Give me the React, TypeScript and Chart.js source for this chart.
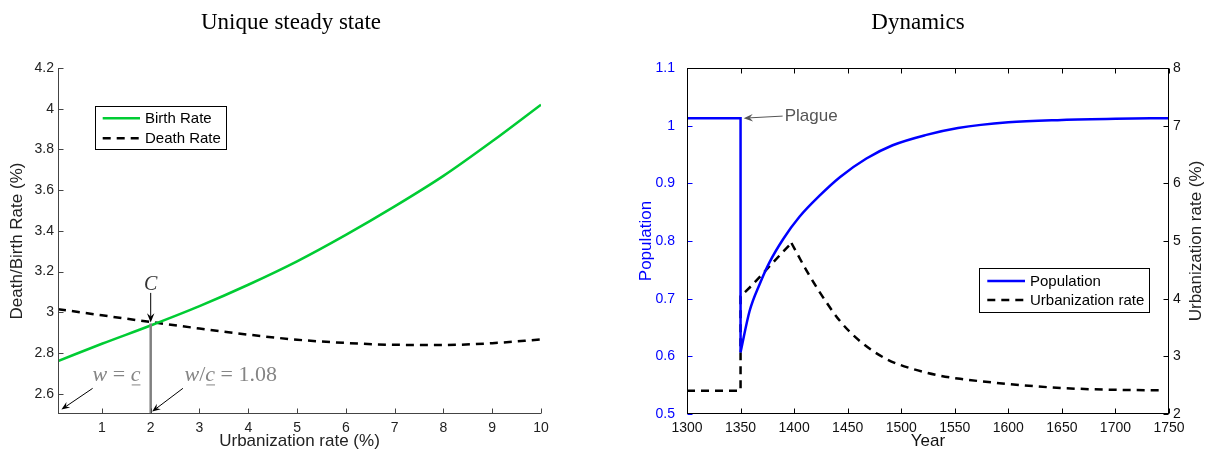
import React, { useEffect, useRef } from 'react';
import { Chart, registerables } from 'chart.js';

Chart.register(...registerables);

// ---------------- Left panel: unique steady state ----------------
const URBAN_RATE = [0.1, 1, 2, 3, 4, 5, 6, 7, 8, 9, 10];
const BIRTH_RATE = [2.76, 2.845, 2.935, 3.03, 3.135, 3.25, 3.38, 3.52, 3.67, 3.84, 4.02];
const DEATH_RATE = [3.015, 2.985, 2.952, 2.92, 2.89, 2.865, 2.849, 2.84, 2.839, 2.848, 2.866];
const STEADY_URBAN = 2;
const STEADY_RATE = 2.945;
const RATE_X_TICKS = [1, 2, 3, 4, 5, 6, 7, 8, 9, 10];
const RATE_Y_TICKS = [2.6, 2.8, 3, 3.2, 3.4, 3.6, 3.8, 4, 4.2];

// ---------------- Right panel: dynamics ----------------
const POP_YEARS = [1300, 1350, 1350, 1358.5, 1368, 1377, 1390, 1405, 1424, 1443, 1467.5, 1492, 1523.5, 1553, 1600, 1650, 1700, 1750];
const POPULATION = [1.013, 1.013, 0.607, 0.679, 0.726, 0.763, 0.804, 0.842, 0.879, 0.911, 0.943, 0.966, 0.984, 0.996, 1.006, 1.01, 1.012, 1.013];
const POP_TROUGH = 2;
const URB_YEARS = [1300, 1350, 1350, 1360, 1370, 1380, 1390, 1397.5, 1411.5, 1424, 1442.5, 1461, 1486, 1511, 1536, 1555, 1600, 1650, 1700, 1745];
const URBANIZATION = [2.405, 2.405, 4.04, 4.22, 4.42, 4.62, 4.82, 4.965, 4.49, 4.11, 3.62, 3.27, 2.955, 2.78, 2.665, 2.61, 2.52, 2.45, 2.42, 2.41];
const URB_PEAK = 7;
const YEAR_TICKS = [1300, 1350, 1400, 1450, 1500, 1550, 1600, 1650, 1700, 1750];
const POP_TICKS = [0.5, 0.6, 0.7, 0.8, 0.9, 1, 1.1];
const URB_TICKS = [2, 3, 4, 5, 6, 7, 8];
const PLAGUE_YEAR = 1350;

// ---------------- styling ----------------
const SANS = '"Liberation Sans", Arial, Helvetica, sans-serif';
const SERIF = '"Liberation Serif", "Times New Roman", serif';
const GREEN = '#00cc33';
const BLUE = '#0000ff';
const W = 607;
const H = 458;
const TICK_SIZE = 14;

const fmt = (v: any) => String(Number(Number(v).toFixed(2)));
const pts = (xs: number[], ys: number[], from = 0, to = xs.length - 1) =>
  xs.slice(from, to + 1).map((x, i) => ({ x, y: ys[from + i] }));
const setTicks = (vals: number[]) => (s: any) => {
  s.ticks = vals.map((v) => ({ value: v }));
};

function arrow(ctx: CanvasRenderingContext2D, x1: number, y1: number, x2: number, y2: number, color: string, lw: number, head: number) {
  ctx.save();
  ctx.setLineDash([]);
  ctx.strokeStyle = color;
  ctx.fillStyle = color;
  ctx.lineWidth = lw;
  const a = Math.atan2(y2 - y1, x2 - x1);
  const bx = x2 - head * 0.6 * Math.cos(a);
  const by = y2 - head * 0.6 * Math.sin(a);
  ctx.beginPath();
  ctx.moveTo(x1, y1);
  ctx.lineTo(bx, by);
  ctx.stroke();
  const sp = 0.38;
  ctx.beginPath();
  ctx.moveTo(x2, y2);
  ctx.lineTo(x2 - head * Math.cos(a - sp), y2 - head * Math.sin(a - sp));
  ctx.lineTo(bx, by);
  ctx.lineTo(x2 - head * Math.cos(a + sp), y2 - head * Math.sin(a + sp));
  ctx.closePath();
  ctx.fill();
  ctx.restore();
}

function drawMath(ctx: CanvasRenderingContext2D, parts: { t: string; it?: boolean; ul?: boolean }[], cx: number, base: number, size: number, color: string) {
  const f = (it?: boolean) => `${it ? 'italic ' : ''}${size}px ${SERIF}`;
  const ws = parts.map((p) => {
    ctx.font = f(p.it);
    return ctx.measureText(p.t).width;
  });
  const total = ws.reduce((a, b) => a + b, 0);
  let x = cx - total / 2;
  ctx.fillStyle = color;
  ctx.strokeStyle = color;
  ctx.textAlign = 'left';
  ctx.textBaseline = 'alphabetic';
  parts.forEach((p, i) => {
    ctx.font = f(p.it);
    ctx.fillText(p.t, x, base);
    if (p.ul) {
      ctx.lineWidth = 1;
      ctx.beginPath();
      ctx.moveTo(x + 1, base + 3.5);
      ctx.lineTo(x + ws[i], base + 3.5);
      ctx.stroke();
    }
    x += ws[i];
  });
}

type TickSpec = { axis: string; side: 'left' | 'right' | 'top' | 'bottom'; color: string };

function framePlugin(sides: { left?: boolean; right?: boolean; top?: boolean; bottom?: boolean }, color: string, ticks: TickSpec[]) {
  return {
    id: 'frame',
    afterDatasetsDraw(chart: any) {
      const { ctx, chartArea: a } = chart;
      const L = Math.round(a.left) + 0.5;
      const R = Math.round(a.right) - 0.5;
      const T = Math.round(a.top) + 0.5;
      const B = Math.round(a.bottom) - 0.5;
      const len = 5;
      ctx.save();
      ctx.setLineDash([]);
      ctx.lineWidth = 1;
      for (const t of ticks) {
        const s = chart.scales[t.axis];
        ctx.strokeStyle = t.color;
        ctx.beginPath();
        for (const tk of s.ticks) {
          const p = Math.round(s.getPixelForValue(tk.value)) + 0.5;
          if (t.side === 'bottom') { ctx.moveTo(p, B); ctx.lineTo(p, B - len); }
          if (t.side === 'top') { ctx.moveTo(p, T); ctx.lineTo(p, T + len); }
          if (t.side === 'left') { ctx.moveTo(L, p); ctx.lineTo(L + len, p); }
          if (t.side === 'right') { ctx.moveTo(R, p); ctx.lineTo(R - len, p); }
        }
        ctx.stroke();
      }
      ctx.strokeStyle = color;
      ctx.beginPath();
      if (sides.left) { ctx.moveTo(L, T - 0.5); ctx.lineTo(L, B + 0.5); }
      if (sides.right) { ctx.moveTo(R, T - 0.5); ctx.lineTo(R, B + 0.5); }
      if (sides.top) { ctx.moveTo(L - 0.5, T); ctx.lineTo(R + 0.5, T); }
      if (sides.bottom) { ctx.moveTo(L - 0.5, B); ctx.lineTo(R + 0.5, B); }
      ctx.stroke();
      ctx.restore();
    },
  };
}

function titlePlugin(text: string, cx: number) {
  return {
    id: 'paneltitle',
    afterDraw(chart: any) {
      const { ctx } = chart;
      ctx.save();
      ctx.font = `23px ${SERIF}`;
      ctx.fillStyle = '#000';
      ctx.textAlign = 'center';
      ctx.textBaseline = 'alphabetic';
      ctx.fillText(text, cx, 29);
      ctx.restore();
    },
  };
}

function legendPlugin(box: { x: number; y: number; w: number; h: number }, rows: { label: string; color: string; dash: number[]; y: number }[], lineX0: number, lineX1: number, textX: number) {
  return {
    id: 'boxlegend',
    afterDraw(chart: any) {
      const { ctx } = chart;
      ctx.save();
      ctx.fillStyle = '#fff';
      ctx.fillRect(box.x, box.y, box.w, box.h);
      ctx.strokeStyle = '#000';
      ctx.lineWidth = 1;
      ctx.setLineDash([]);
      ctx.strokeRect(box.x + 0.5, box.y + 0.5, box.w, box.h);
      for (const r of rows) {
        ctx.strokeStyle = r.color;
        ctx.lineWidth = 2.5;
        ctx.setLineDash(r.dash);
        ctx.beginPath();
        ctx.moveTo(lineX0, r.y);
        ctx.lineTo(lineX1, r.y);
        ctx.stroke();
        ctx.setLineDash([]);
        ctx.fillStyle = '#000';
        ctx.font = `15px ${SANS}`;
        ctx.textAlign = 'left';
        ctx.textBaseline = 'middle';
        ctx.fillText(r.label, textX, r.y + 1);
      }
      ctx.restore();
    },
  };
}

const steadyAnnotations = {
  id: 'steadyAnnot',
  afterDatasetsDraw(chart: any) {
    const { ctx } = chart;
    const x = chart.scales.x;
    const y = chart.scales.y;
    const X = (v: number) => x.getPixelForValue(v);
    const Y = (v: number) => y.getPixelForValue(v);
    ctx.save();
    // vertical gray line from the axis to the steady state
    ctx.strokeStyle = '#808080';
    ctx.lineWidth = 2.5;
    ctx.setLineDash([]);
    ctx.beginPath();
    ctx.moveTo(X(STEADY_URBAN), Y(y.min));
    ctx.lineTo(X(STEADY_URBAN), Y(STEADY_RATE));
    ctx.stroke();
    // C label + arrow
    ctx.font = `italic 20px ${SERIF}`;
    ctx.fillStyle = '#333';
    ctx.textAlign = 'center';
    ctx.textBaseline = 'alphabetic';
    ctx.fillText('C', X(STEADY_URBAN), Y(3.108));
    arrow(ctx, X(STEADY_URBAN), Y(3.095), X(STEADY_URBAN), Y(STEADY_RATE + 0.004), '#000', 1, 10);
    // w = c label
    drawMath(ctx, [{ t: 'w', it: true }, { t: ' = ' }, { t: 'c', it: true, ul: true }], X(1.3), Y(2.66), 22, '#858585');
    arrow(ctx, X(0.81), Y(2.626), X(0.17), Y(2.522), '#000', 1, 9);
    // w/c = 1.08 label
    drawMath(ctx, [{ t: 'w', it: true }, { t: '/' }, { t: 'c', it: true, ul: true }, { t: ' = 1.08' }], X(3.64), Y(2.66), 22, '#858585');
    arrow(ctx, X(2.66), Y(2.626), X(2.03), Y(2.512), '#000', 1, 9);
    ctx.restore();
  },
};

const plagueAnnotation = {
  id: 'plague',
  afterDatasetsDraw(chart: any) {
    const { ctx } = chart;
    const x = chart.scales.x;
    const y = chart.scales.y;
    ctx.save();
    arrow(ctx, x.getPixelForValue(PLAGUE_YEAR + 39.3), y.getPixelForValue(1.0166), x.getPixelForValue(PLAGUE_YEAR + 2.9), y.getPixelForValue(POPULATION[0]), '#555', 1, 10);
    ctx.font = `17px ${SANS}`;
    ctx.fillStyle = '#555';
    ctx.textAlign = 'left';
    ctx.textBaseline = 'alphabetic';
    ctx.fillText('Plague', x.getPixelForValue(PLAGUE_YEAR + 41.2), y.getPixelForValue(1.008));
    ctx.restore();
  },
};

const rightAxisTitle = {
  id: 'rightTitle',
  afterDraw(chart: any) {
    const { ctx } = chart;
    ctx.save();
    ctx.translate(W - 17.3, (chart.chartArea.top + chart.chartArea.bottom) / 2);
    ctx.rotate(-Math.PI / 2);
    ctx.font = `17px ${SANS}`;
    ctx.fillStyle = '#222';
    ctx.textAlign = 'center';
    ctx.textBaseline = 'middle';
    ctx.fillText('Urbanization rate (%)', 0, 0);
    ctx.restore();
  },
};

function makeLeft(canvas: HTMLCanvasElement) {
  return new Chart(canvas, {
    type: 'line',
    data: {
      datasets: [
        {
          label: 'Birth Rate',
          data: pts(URBAN_RATE, BIRTH_RATE),
          borderColor: GREEN,
          borderWidth: 2.5,
          pointRadius: 0,
          cubicInterpolationMode: 'monotone',
          fill: false,
        },
        {
          label: 'Death Rate',
          data: pts(URBAN_RATE, DEATH_RATE),
          borderColor: '#000',
          borderWidth: 2.5,
          borderDash: [8, 6],
          pointRadius: 0,
          cubicInterpolationMode: 'monotone',
          fill: false,
        },
      ],
    } as any,
    options: {
      animation: false,
      responsive: false,
      devicePixelRatio: 1,
      layout: { padding: { top: 68, right: W - 541, bottom: 0, left: 0 } },
      plugins: { legend: { display: false }, tooltip: { enabled: false }, title: { display: false } },
      scales: {
        x: {
          type: 'linear',
          min: 0.1,
          max: 10,
          afterBuildTicks: setTicks(RATE_X_TICKS),
          afterFit: (s: any) => { s.height = H - 414; },
          grid: { display: false, drawTicks: false },
          border: { display: false },
          ticks: { font: { family: SANS, size: TICK_SIZE }, color: '#222', padding: 6, callback: fmt, maxRotation: 0, autoSkip: false },
          title: { display: true, text: 'Urbanization rate (%)', font: { family: SANS, size: 17 }, color: '#222', padding: { top: 0, bottom: 6 } },
        },
        y: {
          type: 'linear',
          min: 2.5,
          max: 4.2,
          afterBuildTicks: setTicks(RATE_Y_TICKS),
          afterFit: (s: any) => { s.width = 58; },
          grid: { display: false, drawTicks: false },
          border: { display: false },
          ticks: { font: { family: SANS, size: TICK_SIZE }, color: '#222', padding: 4, callback: fmt, autoSkip: false },
          title: { display: true, text: 'Death/Birth Rate (%)', font: { family: SANS, size: 17 }, color: '#222', padding: { top: 7, bottom: 0 } },
        },
      },
    } as any,
    plugins: [
      steadyAnnotations,
      framePlugin({ left: true, bottom: true }, '#444', [
        { axis: 'x', side: 'bottom', color: '#444' },
        { axis: 'y', side: 'left', color: '#444' },
      ]),
      legendPlugin(
        { x: 95, y: 106, w: 131, h: 43 },
        [
          { label: 'Birth Rate', color: GREEN, dash: [], y: 118.3 },
          { label: 'Death Rate', color: '#000', dash: [8, 6], y: 138.3 },
        ],
        102.7,
        140,
        145,
      ),
      titlePlugin('Unique steady state', 291),
    ] as any,
  });
}

function makeRight(canvas: HTMLCanvasElement) {
  const line = { pointRadius: 0, fill: false, borderWidth: 2.5 };
  return new Chart(canvas, {
    type: 'line',
    data: {
      datasets: [
        { ...line, label: 'Population', data: pts(POP_YEARS, POPULATION, 0, POP_TROUGH), borderColor: BLUE, tension: 0, yAxisID: 'y', borderJoinStyle: 'miter' },
        { ...line, label: 'Population', data: pts(POP_YEARS, POPULATION, POP_TROUGH), borderColor: BLUE, cubicInterpolationMode: 'monotone', yAxisID: 'y' },
        { ...line, label: 'Urbanization rate', data: pts(URB_YEARS, URBANIZATION, 0, URB_PEAK), borderColor: '#000', borderDash: [8, 6], tension: 0, yAxisID: 'y1' },
        { ...line, label: 'Urbanization rate', data: pts(URB_YEARS, URBANIZATION, URB_PEAK), borderColor: '#000', borderDash: [8, 6], cubicInterpolationMode: 'monotone', yAxisID: 'y1' },
      ],
    } as any,
    options: {
      animation: false,
      responsive: false,
      devicePixelRatio: 1,
      layout: { padding: { top: 68, right: 0, bottom: 0, left: 0 } },
      plugins: { legend: { display: false }, tooltip: { enabled: false }, title: { display: false } },
      scales: {
        x: {
          type: 'linear',
          min: 1300,
          max: 1750,
          afterBuildTicks: setTicks(YEAR_TICKS),
          afterFit: (s: any) => { s.height = H - 414; },
          grid: { display: false, drawTicks: false },
          border: { display: false },
          ticks: { font: { family: SANS, size: TICK_SIZE }, color: '#111', padding: 6, callback: fmt, maxRotation: 0, autoSkip: false },
          title: { display: true, text: 'Year', font: { family: SANS, size: 17 }, color: '#111', padding: { top: 0, bottom: 6 } },
        },
        y: {
          type: 'linear',
          position: 'left',
          min: 0.5,
          max: 1.1,
          afterBuildTicks: setTicks(POP_TICKS),
          afterFit: (s: any) => { s.width = 687 - 607; },
          grid: { display: false, drawTicks: false },
          border: { display: false },
          ticks: { font: { family: SANS, size: TICK_SIZE }, color: BLUE, padding: 12, callback: fmt, autoSkip: false },
          title: { display: true, text: 'Population', font: { family: SANS, size: 17 }, color: BLUE, padding: { top: 29.5, bottom: 0 } },
        },
        y1: {
          type: 'linear',
          position: 'right',
          min: 2,
          max: 8,
          afterBuildTicks: setTicks(URB_TICKS),
          afterFit: (s: any) => { s.width = W - (1169 - 607); },
          grid: { display: false, drawTicks: false },
          border: { display: false },
          ticks: { font: { family: SANS, size: TICK_SIZE }, color: '#111', padding: 4, callback: fmt, autoSkip: false },
        },
      },
    } as any,
    plugins: [
      plagueAnnotation,
      framePlugin({ left: true, right: true, top: true, bottom: true }, '#000', [
        { axis: 'x', side: 'bottom', color: '#000' },
        { axis: 'x', side: 'top', color: '#000' },
        { axis: 'y', side: 'left', color: BLUE },
        { axis: 'y1', side: 'right', color: '#000' },
      ]),
      legendPlugin(
        { x: 979 - 607, y: 268, w: 170, h: 44 },
        [
          { label: 'Population', color: BLUE, dash: [], y: 281 },
          { label: 'Urbanization rate', color: '#000', dash: [8, 6], y: 300 },
        ],
        987.3 - 607,
        1025 - 607,
        1030 - 607,
      ),
      titlePlugin('Dynamics', 918 - 607),
      rightAxisTitle,
    ] as any,
  });
}

export default function App() {
  const leftRef = useRef<HTMLCanvasElement>(null);
  const rightRef = useRef<HTMLCanvasElement>(null);
  useEffect(() => {
    const c1 = makeLeft(leftRef.current as HTMLCanvasElement);
    const c2 = makeRight(rightRef.current as HTMLCanvasElement);
    return () => {
      c1.destroy();
      c2.destroy();
    };
  }, []);
  return (
    <div style={{ position: 'absolute', left: 0, top: 0, width: 1214, height: 458, background: '#fff' }}>
      <canvas ref={leftRef} width={W} height={H} style={{ position: 'absolute', left: 0, top: 0, width: W, height: H }} />
      <canvas ref={rightRef} width={W} height={H} style={{ position: 'absolute', left: W, top: 0, width: W, height: H }} />
    </div>
  );
}
